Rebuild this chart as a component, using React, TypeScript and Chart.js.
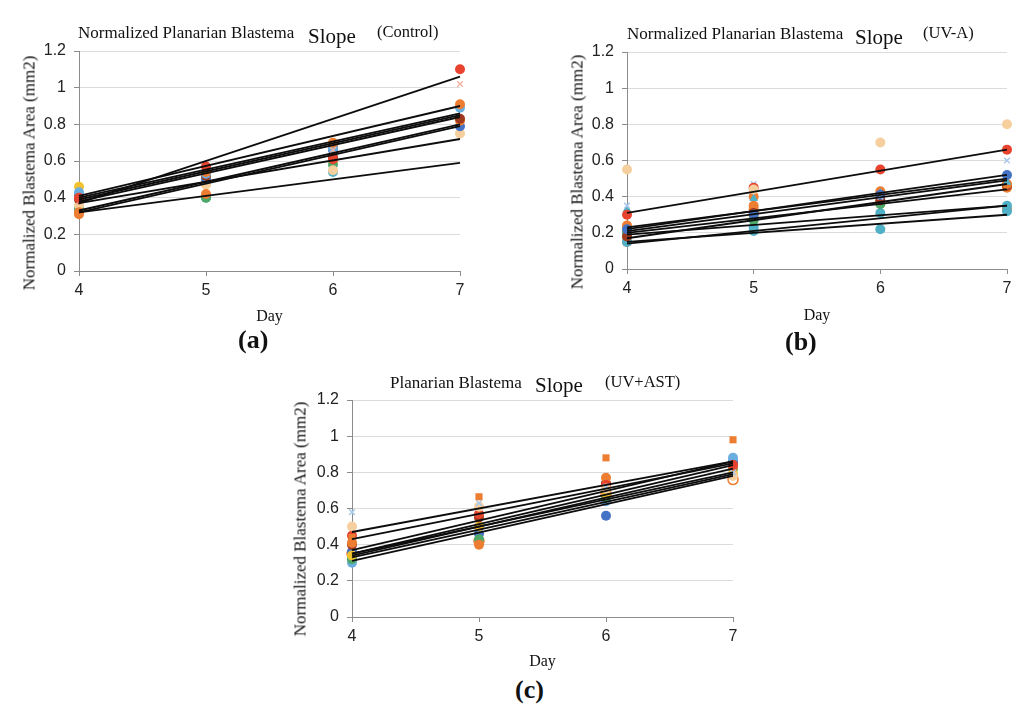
import { useEffect, useRef } from "react"
import { Chart, registerables } from "chart.js"

Chart.register(...registerables)

// shared axes
const days = [4, 5, 6, 7]
const dayMin = 4
const dayMax = 7
const areaMax = 1.2
const areaStep = 0.2

// marker palette (spreadsheet-like)
const red = "#e8432e"
const orange = "#ed7d31"
const tan = "#f6cf9f"
const yellow = "#f2c12e"
const lightBlue = "#6aaee0"
const paleBlue = "#a9c8ec"
const teal = "#4fb0c6"
const blue = "#4472c4"
const green = "#4ea86a"
const brown = "#a0381e"
const pink = "#f2b5a5"

// (a) Control
const controlColors = [red, pink, orange, lightBlue, brown, orange, blue, tan, green, teal, yellow]
const controlShapes = ["circle", "crossRot", "circle", "circle", "circle", "circle", "circle", "circle", "circle", "circle", "circle"]
const controlPoints = [
  [0.40, 0.57, 0.61, 1.10],
  [0.38, 0.55, 0.66, 1.02],
  [0.31, 0.54, 0.70, 0.91],
  [0.43, 0.53, 0.67, 0.89],
  [0.39, 0.52, 0.62, 0.83],
  [0.32, 0.42, 0.68, 0.82],
  [0.41, 0.50, 0.66, 0.79],
  [0.36, 0.47, 0.55, 0.75],
  [0.34, 0.40, 0.58, null],
  [0.33, 0.40, 0.54, null],
  [0.46, 0.49, 0.60, null],
]
const controlTrendStart = [0.37, 0.41, 0.40, 0.39, 0.38, 0.33, 0.32, 0.37, 0.32]
const controlTrendEnd = [1.06, 0.90, 0.86, 0.85, 0.84, 0.80, 0.79, 0.72, 0.59]

// (b) UV-A
const uvaColors = [tan, red, paleBlue, blue, teal, orange, brown, orange, green, teal, teal, orange, yellow]
const uvaShapes = ["circle", "circle", "crossRot", "circle", "triangle", "circle", "circle", "circle", "circle", "circle", "circle", "circle", "circle"]
const uvaPoints = [
  [0.55, 0.44, 0.70, 0.80],
  [0.30, 0.45, 0.55, 0.66],
  [0.35, 0.47, 0.40, 0.60],
  [0.22, 0.30, 0.41, 0.52],
  [0.33, 0.39, 0.42, 0.48],
  [0.24, 0.40, 0.43, 0.47],
  [0.18, 0.31, 0.38, 0.46],
  [0.22, 0.35, 0.41, 0.45],
  [0.20, 0.27, 0.36, null],
  [0.19, 0.23, 0.31, 0.35],
  [0.15, 0.21, 0.22, 0.32],
  [0.15, 0.33, 0.37, 0.33],
  [0.18, 0.29, 0.36, null],
]
const uvaTrendStart = [0.31, 0.22, 0.23, 0.21, 0.17, 0.20, 0.19, 0.15, 0.14]
const uvaTrendEnd = [0.66, 0.52, 0.50, 0.49, 0.47, 0.44, 0.35, 0.30, 0.35]

// (c) UV+AST
const astColors = [orange, paleBlue, tan, red, orange, brown, yellow, green, lightBlue, blue, orange, green]
const astShapes = ["rect", "crossRot", "circle", "circle", "circle", "circle", "circle", "circle", "circle", "circle", "open", "circle"]
const astPoints = [
  [0.44, 0.665, 0.88, 0.98],
  [0.58, 0.63, 0.72, 0.80],
  [0.50, 0.61, 0.71, 0.78],
  [0.45, 0.57, 0.73, 0.84],
  [0.41, 0.40, 0.77, 0.83],
  [0.40, 0.55, 0.74, 0.84],
  [0.34, 0.50, 0.68, 0.79],
  [0.32, 0.43, 0.66, 0.82],
  [0.30, 0.50, 0.64, 0.88],
  [0.36, 0.46, 0.56, 0.86],
  [0.35, 0.42, 0.68, 0.76],
  [0.33, 0.42, null, null],
]
const astTrendStart = [0.47, 0.43, 0.37, 0.35, 0.34, 0.35, 0.33, 0.31]
const astTrendEnd = [0.86, 0.85, 0.86, 0.84, 0.82, 0.80, 0.79, 0.78]

const serif = "'Liberation Serif', 'Times New Roman', serif"
const sans = "'Liberation Sans', Arial, sans-serif"

function buildDatasets(
  points: (number | null)[][],
  colors: string[],
  shapes: string[],
  trendStart: number[],
  trendEnd: number[]
) {
  const trends = trendStart.map((start, i) => ({
    data: [
      { x: dayMin, y: start },
      { x: dayMax, y: trendEnd[i] },
    ],
    showLine: true,
    borderColor: "#0d0d0d",
    borderWidth: 1.8,
    pointRadius: 0,
    clip: false,
    order: 1,
  }))
  const markers = points.map((row, i) => {
    const shape = shapes[i]
    const isCross = shape === "crossRot"
    return {
      data: days
        .map((d, j) => ({ x: d, y: row[j] }))
        .filter((p) => p.y !== null),
      showLine: false,
      pointStyle: shape === "open" ? "circle" : shape,
      pointRadius: isCross ? 4 : 5,
      backgroundColor: shape === "open" ? "#ffffff" : colors[i],
      borderColor: colors[i],
      borderWidth: isCross || shape === "open" ? 1.5 : 0,
      clip: false,
      order: 2,
    }
  })
  return [...trends, ...markers]
}

interface PanelProps {
  left: number
  top: number
  width: number
  height: number
  padRight: number
  xHeight: number
  datasets: any[]
}

function Panel({ left, top, width, height, padRight, xHeight, datasets }: PanelProps) {
  const chartRef = useRef<HTMLCanvasElement>(null)
  const chartInstance = useRef<Chart | null>(null)

  useEffect(() => {
    if (!chartRef.current) return
    if (chartInstance.current) chartInstance.current.destroy()

    chartInstance.current = new Chart(chartRef.current, {
      type: "scatter",
      data: { datasets },
      options: {
        responsive: false,
        animation: false,
        events: [],
        layout: { padding: { top: 21, right: padRight, left: 0, bottom: 0 } },
        plugins: { legend: { display: false }, tooltip: { enabled: false } },
        scales: {
          x: {
            type: "linear",
            min: dayMin,
            max: dayMax,
            ticks: { stepSize: 1, padding: 5, color: "#222", font: { family: sans, size: 16 } },
            grid: { drawOnChartArea: false, tickLength: 5, tickColor: "#8c8c8c" },
            border: { color: "#8c8c8c" },
            title: {
              display: true,
              text: "Day",
              color: "#111",
              font: { family: serif, size: 16 },
              padding: { top: 0, bottom: 4 },
            },
            afterFit: (scale) => {
              scale.height = xHeight
            },
          },
          y: {
            min: 0,
            max: areaMax,
            ticks: {
              stepSize: areaStep,
              padding: 8,
              color: "#222",
              font: { family: sans, size: 16 },
              callback: (v) => String(Number(Number(v).toFixed(1))),
            },
            grid: { color: "#dcdcdc", tickLength: 5, tickColor: "#8c8c8c" },
            border: { color: "#8c8c8c" },
            afterFit: (scale) => {
              scale.width = 64
            },
          },
        },
      },
    })

    return () => {
      if (chartInstance.current) {
        chartInstance.current.destroy()
        chartInstance.current = null
      }
    }
  }, [datasets])

  return (
    <canvas
      ref={chartRef}
      width={width}
      height={height}
      style={{ position: "absolute", left, top, width, height }}
    />
  )
}

function Text({ x, y, size, children, bold }: { x: number; y: number; size: number; children: string; bold?: boolean }) {
  return (
    <div
      style={{
        position: "absolute",
        left: x,
        top: y - size / 2,
        fontFamily: serif,
        fontSize: size,
        lineHeight: 1,
        fontWeight: bold ? "bold" : "normal",
        color: "#111",
        whiteSpace: "nowrap",
      }}
    >
      {children}
    </div>
  )
}

function YTitle({ cx, cy }: { cx: number; cy: number }) {
  return (
    <div
      style={{
        position: "absolute",
        left: cx,
        top: cy,
        transform: "translate(-50%, -50%) rotate(-90deg)",
        fontFamily: serif,
        fontSize: 17,
        lineHeight: 1,
        color: "#111",
        whiteSpace: "nowrap",
      }}
    >
      Normalized Blastema Area (mm2)
    </div>
  )
}

const controlData = buildDatasets(controlPoints, controlColors, controlShapes, controlTrendStart, controlTrendEnd)
const uvaData = buildDatasets(uvaPoints, uvaColors, uvaShapes, uvaTrendStart, uvaTrendEnd)
const astData = buildDatasets(astPoints, astColors, astShapes, astTrendStart, astTrendEnd)

export default function App() {
  return (
    <div
      style={{
        position: "absolute",
        left: 0,
        top: 0,
        width: 1024,
        height: 708,
        background: "#fff",
        overflow: "hidden",
      }}
    >
      <Panel left={15} top={30} width={470} height={300} padRight={25} xHeight={59} datasets={controlData} />
      <Panel left={563} top={31} width={461} height={298} padRight={17} xHeight={60} datasets={uvaData} />
      <Panel left={288} top={379} width={470} height={296} padRight={25} xHeight={58} datasets={astData} />

      <Text x={78} y={32} size={17}>Normalized Planarian Blastema</Text>
      <Text x={308} y={36} size={21}>Slope</Text>
      <Text x={377} y={32} size={16.5}>(Control)</Text>
      <YTitle cx={29} cy={173} />
      <Text x={238} y={340} size={26} bold>(a)</Text>

      <Text x={627} y={33} size={17}>Normalized Planarian Blastema</Text>
      <Text x={855} y={37} size={21}>Slope</Text>
      <Text x={923} y={33} size={16.5}>(UV-A)</Text>
      <YTitle cx={577} cy={172} />
      <Text x={785} y={342} size={26} bold>(b)</Text>

      <Text x={390} y={382} size={17}>Planarian Blastema</Text>
      <Text x={535} y={385} size={21}>Slope</Text>
      <Text x={605} y={382} size={16.5}>(UV+AST)</Text>
      <YTitle cx={300} cy={519} />
      <Text x={515} y={690} size={26} bold>(c)</Text>
    </div>
  )
}
